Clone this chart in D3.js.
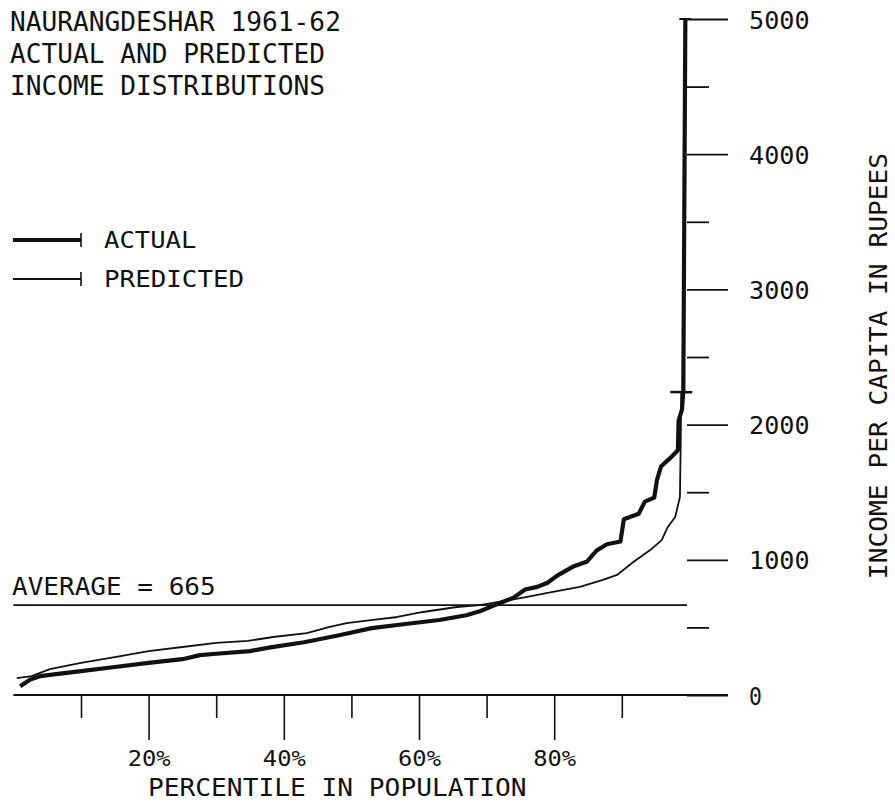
<!DOCTYPE html>
<html>
<head>
<meta charset="utf-8">
<script src="https://cdn.jsdelivr.net/npm/d3@7"></script>
<style>
  body { margin: 0; background: #fff; }
  text { font-family: "DejaVu Sans Mono", monospace; fill: #111; }
</style>
</head>
<body>
<div class="visHolder"></div>
<script>
// percentile in population vs income per capita (rupees)
const actualPct = [1.0, 2.5, 4, 6, 10, 15, 20, 25, 27.6, 30, 35, 38, 43, 48, 53, 58, 63, 67, 69, 70.5, 72, 74, 75.7, 77.5, 79, 80.5, 82.8, 84.8, 86.3, 87.8, 89.8, 90.3, 92.5, 93.4, 94.8, 95.2, 95.8, 97.1, 98.3, 98.4, 98.9, 99.1, 99.4];
const actualIncome = [65, 115, 140, 152, 177, 207, 237, 265, 295, 305, 325, 352, 390, 440, 495, 525, 555, 590, 620, 650, 680, 720, 780, 800, 830, 885, 950, 985, 1070, 1115, 1135, 1300, 1340, 1430, 1460, 1590, 1690, 1750, 1810, 2030, 2110, 2250, 5000];

const predictedPct = [0.5, 2.7, 5.4, 10, 15, 20, 25, 30, 34.7, 38.4, 43.4, 46.8, 49.3, 53.2, 56.8, 60.6, 65.6, 69, 72, 76, 79.8, 83.8, 87.2, 89.3, 91.7, 94.2, 95.9, 96.8, 97.9, 98.6, 98.7, 98.8];
const predictedIncome = [125, 140, 192, 237, 280, 325, 355, 385, 400, 429, 458, 503, 532, 555, 577, 614, 651, 665, 690, 725, 762, 800, 851, 888, 984, 1072, 1146, 1243, 1316, 1465, 1810, 2240];

const yMajorTicks = [0, 1000, 2000, 3000, 4000, 5000];
const yMinorTicks = [500, 1500, 2500, 3500, 4500];
const xMajorTicks = [20, 40, 60, 80];
const xMinorTicks = [10, 30, 50, 70, 90];
const average = 665;

const titleLines = ['NAURANGDESHAR 1961-62', 'ACTUAL AND PREDICTED', 'INCOME DISTRIBUTIONS'];
const seriesNames = ['ACTUAL', 'PREDICTED'];

const width = 895;
const height = 806;
const charW = 15.9;

const svg = d3.select('.visHolder')
              .append('svg')
              .attr('width', width)
              .attr('height', height);

const xScale = d3.scaleLinear().domain([0, 100]).range([13.4, 689.4]);
const yScale = d3.scaleLinear().domain([0, 5000]).range([695, 19]);
const axisX = 687;

// plotter style text: fixed advance per character
const addText = (x, y, str, size, anchor) => {
  return svg.append('text')
    .attr('x', x)
    .attr('y', y)
    .attr('font-size', size)
    .attr('text-anchor', anchor || 'start')
    .attr('textLength', str.length * charW - 3)
    .attr('lengthAdjust', 'spacingAndGlyphs')
    .text(str);
};

titleLines.forEach((t, i) => addText(10, 31 + i * 32, t, 26));

// y axis ticks (no spine)
const yMajor = svg.append('g')
  .attr('transform', `translate(${axisX}, 0)`)
  .call(d3.axisRight(yScale).tickValues(yMajorTicks).tickSize(41).tickPadding(21).tickFormat(d3.format('d')));
const yMinor = svg.append('g')
  .attr('transform', `translate(${axisX}, 0)`)
  .call(d3.axisRight(yScale).tickValues(yMinorTicks).tickSize(22).tickFormat(''));
[yMajor, yMinor].forEach(g => {
  g.select('.domain').remove();
  g.selectAll('line').attr('stroke', '#111').attr('stroke-width', 1.8);
});
yMajor.selectAll('text')
  .attr('font-size', 25)
  .attr('font-family', '"DejaVu Sans Mono", monospace')
  .attr('fill', '#111')
  .attr('dy', '0.36em')
  .each(function (d) {
    d3.select(this).attr('textLength', String(d).length * charW - 3).attr('lengthAdjust', 'spacingAndGlyphs');
  });

// x axis
svg.append('line')
  .attr('x1', xScale(0))
  .attr('x2', 728)
  .attr('y1', yScale(0))
  .attr('y2', yScale(0))
  .attr('stroke', '#111')
  .attr('stroke-width', 1.8);

const xMajor = svg.append('g')
  .attr('transform', `translate(0, ${yScale(0)})`)
  .call(d3.axisBottom(xScale).tickValues(xMajorTicks).tickSize(45).tickPadding(10).tickFormat(d => d + '%'));
const xMinor = svg.append('g')
  .attr('transform', `translate(0, ${yScale(0)})`)
  .call(d3.axisBottom(xScale).tickValues(xMinorTicks).tickSize(23).tickFormat(''));
[xMajor, xMinor].forEach(g => {
  g.select('.domain').remove();
  g.selectAll('line').attr('stroke', '#111').attr('stroke-width', 1.6);
});
xMajor.selectAll('text')
  .attr('font-size', 22)
  .attr('font-family', '"DejaVu Sans Mono", monospace')
  .attr('fill', '#111')
  .attr('textLength', 3 * 15.3 - 3)
  .attr('lengthAdjust', 'spacingAndGlyphs');

addText(148, 796, 'PERCENTILE IN POPULATION', 25);

svg.append('text')
  .attr('transform', 'translate(887, 366) rotate(-90)')
  .attr('font-size', 25)
  .attr('text-anchor', 'middle')
  .attr('textLength', 27 * charW - 3)
  .attr('lengthAdjust', 'spacingAndGlyphs')
  .text('INCOME PER CAPITA IN RUPEES');

// average line
svg.append('line')
  .attr('x1', xScale(0))
  .attr('x2', axisX)
  .attr('y1', yScale(average))
  .attr('y2', yScale(average))
  .attr('stroke', '#111')
  .attr('stroke-width', 1.8);
addText(12, 595, 'AVERAGE = ' + average, 25);

// curves
const line = d3.line()
  .x(d => xScale(d[0]))
  .y(d => yScale(d[1]));

const actual = actualPct.map((p, i) => [p, actualIncome[i]]);
const predicted = predictedPct.map((p, i) => [p, predictedIncome[i]]);

const endBar = (pts, len, w) => {
  const a = pts[pts.length - 2];
  const b = pts[pts.length - 1];
  const x1 = xScale(a[0]), y1 = yScale(a[1]);
  const x2 = xScale(b[0]), y2 = yScale(b[1]);
  const dx = x2 - x1, dy = y2 - y1;
  const l = Math.sqrt(dx * dx + dy * dy);
  const nx = -dy / l * len / 2, ny = dx / l * len / 2;
  svg.append('line')
    .attr('x1', x2 - nx).attr('y1', y2 - ny)
    .attr('x2', x2 + nx).attr('y2', y2 + ny)
    .attr('stroke', '#111')
    .attr('stroke-width', w);
};

svg.append('path')
  .datum(predicted)
  .attr('d', line)
  .attr('fill', 'none')
  .attr('stroke', '#111')
  .attr('stroke-width', 1.8)
  .attr('stroke-linejoin', 'round');
endBar(predicted, 22, 2.5);

svg.append('path')
  .datum(actual)
  .attr('d', line)
  .attr('fill', 'none')
  .attr('stroke', '#111')
  .attr('stroke-width', 4.2)
  .attr('stroke-linejoin', 'round');
endBar(actual, 12, 2);

// legend
const legendY = [240, 279];
const legendW = [4.2, 1.8];
seriesNames.forEach((name, i) => {
  svg.append('line')
    .attr('x1', 13).attr('x2', 81)
    .attr('y1', legendY[i]).attr('y2', legendY[i])
    .attr('stroke', '#111')
    .attr('stroke-width', legendW[i]);
  svg.append('line')
    .attr('x1', 81).attr('x2', 81)
    .attr('y1', legendY[i] - 7).attr('y2', legendY[i] + 7)
    .attr('stroke', '#111')
    .attr('stroke-width', 1.6);
  addText(104, legendY[i] + 8, name, 23);
});
</script>
</body>
</html>
